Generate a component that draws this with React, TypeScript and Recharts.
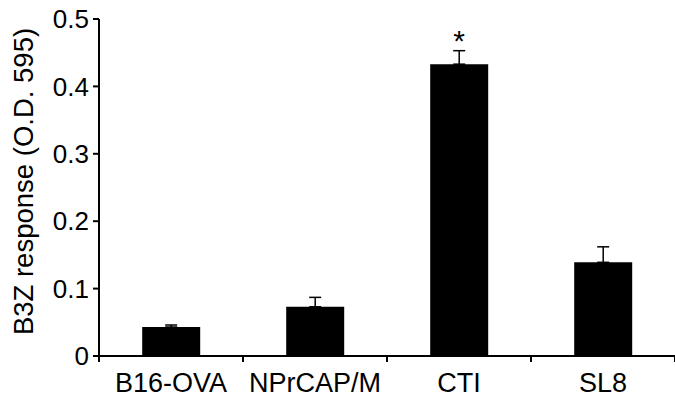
import { BarChart, Bar, XAxis, YAxis, ErrorBar, LabelList } from 'recharts';

const groups = ['B16-OVA', 'NPrCAP/M', 'CTI', 'SL8'];
const response = [0.043, 0.073, 0.433, 0.139];
const upperError = [0.003, 0.014, 0.02, 0.023];
const marks = ['', '', '*', ''];
const yTicks = [0, 0.1, 0.2, 0.3, 0.4, 0.5];

const data = groups.map((name, i) => ({
  name,
  value: response[i],
  err: [0, upperError[i]],
  mark: marks[i],
}));

const font = 'Liberation Sans, Arial, Helvetica, sans-serif';

// category label plus a short tick at the left edge of each band (and right edge of the last)
function GroupTick(props: any) {
  const { x, y, payload, index, visibleTicksCount } = props;
  const half = payload.offset ?? 0;
  const axisY = y - 12;
  return (
    <g>
      <line x1={x - half} x2={x - half} y1={axisY - 5} y2={axisY + 1} stroke="#000" strokeWidth={2} />
      {index === visibleTicksCount - 1 && (
        <line x1={x + half} x2={x + half} y1={axisY - 5} y2={axisY + 1} stroke="#000" strokeWidth={2} />
      )}
      <text x={x} y={y} dy="0.71em" textAnchor="middle" fill="#000" fontSize={27} fontFamily={font}>
        {payload.value}
      </text>
    </g>
  );
}

export default function App() {
  return (
    <div style={{ position: 'absolute', left: 0, top: 0, background: '#fff' }}>
      <BarChart
        width={675}
        height={404}
        data={data}
        margin={{ top: 19, right: 0, left: 0, bottom: 0 }}
        barCategoryGap="30%"
      >
        <XAxis
          dataKey="name"
          axisLine={{ stroke: '#000', strokeWidth: 2 }}
          tickLine={false}
          tickMargin={12}
          tickSize={5}
          height={48}
          interval={0}
          tick={<GroupTick />}
        />
        <YAxis
          domain={[0, 0.5]}
          ticks={yTicks}
          width={99}
          axisLine={{ stroke: '#000', strokeWidth: 2 }}
          tickLine={{ stroke: '#000', strokeWidth: 2 }}
          tickSize={6}
          tickMargin={4}
          tick={{ fill: '#000', fontSize: 26, fontFamily: font }}
          label={{
            content: ({ viewBox }: any) => {
              const cx = viewBox.x + 23;
              const cy = viewBox.y + viewBox.height / 2 - 6;
              return (
                <text
                  x={cx}
                  y={cy}
                  transform={`rotate(-90 ${cx} ${cy})`}
                  textAnchor="middle"
                  dominantBaseline="central"
                  fontSize={27.5}
                  fontFamily={font}
                  fill="#000"
                >
                  B3Z response (O.D. 595)
                </text>
              );
            },
          }}
        />
        <Bar dataKey="value" fill="#000" isAnimationActive={false}>
          <ErrorBar
            dataKey="err"
            direction="y"
            width={6}
            stroke="#000"
            strokeWidth={1.5}
            isAnimationActive={false}
          />
          <LabelList
            dataKey="mark"
            position="top"
            offset={13}
            fill="#000"
            fontSize={30}
            fontFamily={font}
          />
        </Bar>
      </BarChart>
    </div>
  );
}
